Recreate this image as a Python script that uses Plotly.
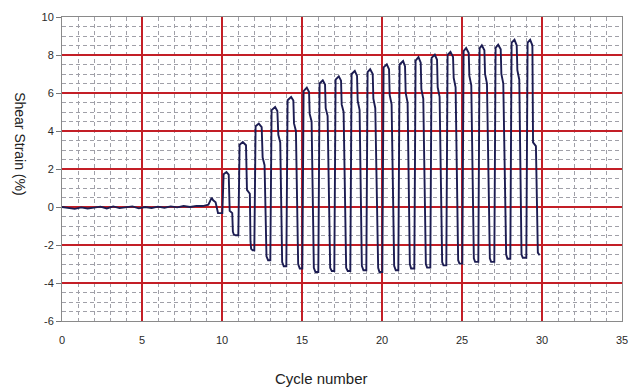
import plotly.graph_objects as go

# ---- data ----
# low-level response before liquefaction (cycles 0-10)
pre_x = [0.0, 0.4, 0.8, 1.2, 1.6, 2.0, 2.4, 2.8, 3.2, 3.6, 4.0, 4.4, 4.8, 5.2, 5.6,
         6.0, 6.4, 6.8, 7.2, 7.6, 8.0, 8.4, 8.8, 9.15, 9.35, 9.45, 9.6, 9.75, 10.0]
pre_y = [0.00, -0.04, -0.10, -0.02, -0.08, -0.03, 0.02, -0.08, 0.03, -0.06, -0.02, 0.03,
         -0.07, 0.00, -0.05, 0.02, -0.04, 0.03, -0.02, 0.05, 0.00, 0.06, 0.05, 0.12,
         0.48, 0.35, 0.25, -0.32, -0.32]

# large-strain cycles (cycles 10-30)
cyc_x = [
    10.02, 10.10, 10.28, 10.42, 10.48, 10.64, 10.68, 10.74, 10.86,
    11.02, 11.10, 11.30, 11.50, 11.56, 11.74, 11.78, 11.82, 11.92,
    12.02, 12.10, 12.30, 12.48, 12.54, 12.66, 12.72, 12.78, 12.88,
    13.02, 13.10, 13.32, 13.46, 13.52, 13.64, 13.70, 13.76, 13.86,
    14.02, 14.10, 14.32, 14.46, 14.50, 14.62, 14.68, 14.76, 14.86,
    15.02, 15.10, 15.30, 15.44, 15.48, 15.60, 15.66, 15.74, 15.84,
    16.02, 16.10, 16.30, 16.44, 16.48, 16.60, 16.66, 16.76, 16.86,
    17.02, 17.10, 17.30, 17.44, 17.48, 17.60, 17.66, 17.76, 17.86,
    18.02, 18.10, 18.30, 18.44, 18.48, 18.60, 18.66, 18.74, 18.84,
    19.02, 19.10, 19.26, 19.42, 19.46, 19.58, 19.66, 19.76, 19.84,
    20.02, 20.10, 20.30, 20.44, 20.48, 20.60, 20.66, 20.76, 20.86,
    21.02, 21.10, 21.32, 21.44, 21.48, 21.60, 21.66, 21.74, 21.82,
    22.02, 22.10, 22.28, 22.42, 22.46, 22.58, 22.66, 22.74, 22.82,
    23.02, 23.10, 23.30, 23.44, 23.48, 23.60, 23.66, 23.76, 23.84,
    24.02, 24.10, 24.28, 24.44, 24.48, 24.60, 24.66, 24.76, 24.84,
    25.02, 25.10, 25.26, 25.42, 25.46, 25.58, 25.66, 25.74, 25.82,
    26.02, 26.10, 26.24, 26.40, 26.44, 26.56, 26.64, 26.74, 26.82,
    27.02, 27.10, 27.26, 27.42, 27.46, 27.58, 27.66, 27.76, 27.84,
    28.02, 28.10, 28.28, 28.42, 28.46, 28.58, 28.64, 28.72, 28.80,
    29.02, 29.10, 29.26, 29.40, 29.44, 29.62, 29.68, 29.74, 29.85,
]
cyc_y = [
    -0.32, 1.72, 1.84, 1.70, -0.20, -0.32, -1.30, -1.45, -1.49,
    -1.49, 3.28, 3.42, 3.25, 0.90, 0.70, -1.80, -2.20, -2.28,
    -2.28, 4.25, 4.39, 4.20, 2.60, 2.20, -1.00, -2.60, -2.80,
    -2.80, 5.10, 5.26, 5.05, 3.80, 3.40, 0.50, -2.90, -3.12,
    -3.12, 5.62, 5.79, 5.60, 4.40, 4.00, 1.00, -3.00, -3.24,
    -3.24, 6.10, 6.28, 6.05, 4.90, 4.50, 1.20, -3.20, -3.42,
    -3.42, 6.50, 6.67, 6.45, 5.20, 4.80, 1.40, -3.20, -3.37,
    -3.37, 6.70, 6.88, 6.65, 5.40, 5.00, 1.50, -3.20, -3.37,
    -3.37, 7.00, 7.16, 6.90, 5.60, 5.10, 1.60, -3.10, -3.33,
    -3.33, 7.10, 7.25, 7.00, 5.70, 5.20, 1.60, -3.20, -3.42,
    -3.42, 7.35, 7.51, 7.25, 5.90, 5.40, 1.70, -3.10, -3.33,
    -3.33, 7.50, 7.68, 7.40, 6.00, 5.50, 1.80, -3.00, -3.24,
    -3.24, 7.70, 7.89, 7.60, 6.20, 5.70, 1.80, -3.00, -3.19,
    -3.19, 7.85, 8.02, 7.75, 6.30, 5.80, 1.90, -2.90, -3.07,
    -3.07, 8.00, 8.16, 7.90, 6.80, 6.30, 1.80, -2.80, -2.98,
    -2.98, 8.20, 8.37, 8.10, 6.90, 6.40, 1.90, -2.70, -2.89,
    -2.89, 8.35, 8.51, 8.25, 7.00, 6.50, 2.00, -2.70, -2.89,
    -2.89, 8.38, 8.54, 8.30, 7.00, 6.50, 2.00, -2.50, -2.72,
    -2.72, 8.65, 8.80, 8.50, 7.20, 6.70, 2.10, -2.50, -2.67,
    -2.67, 8.65, 8.80, 8.50, 3.40, 3.20, -1.00, -2.40, -2.54,
]

x_ticks = [0, 5, 10, 15, 20, 25, 30, 35]
y_ticks = [-6, -4, -2, 0, 2, 4, 6, 8, 10]
x_minor = [v for v in range(0, 36) if v % 5 != 0]
y_minor = [v / 2 for v in range(-12, 21) if v % 4 != 0]

x_all = pre_x + cyc_x
y_all = pre_y + cyc_y

FONT = "Liberation Sans, Arial, sans-serif"
RED = "rgb(195,30,38)"
MINOR = "rgb(160,160,168)"

fig = go.Figure()
fig.add_trace(go.Scatter(
    x=x_all, y=y_all, mode="lines",
    line=dict(color="#1c1c52", width=1.9),
    hoverinfo="skip", showlegend=False,
))

common = dict(
    showline=True, mirror=True, linecolor="#8a8a8a", linewidth=1,
    zeroline=False, showgrid=True, gridcolor=RED, gridwidth=1.5,
    tickfont=dict(family=FONT, size=11, color="#2a2a2a"),
)
fig.update_xaxes(
    range=[0, 35], tickvals=x_ticks, ticktext=[str(v) for v in x_ticks],
    ticks="outside", ticklen=9, tickcolor="rgba(0,0,0,0)",
    minor=dict(tickvals=x_minor, showgrid=True, gridcolor=MINOR,
               griddash="4px,3px", gridwidth=1, ticks=""),
    **common,
)
fig.update_yaxes(
    range=[-6, 10], tickvals=y_ticks, ticktext=[str(v) for v in y_ticks],
    ticks="outside", ticklen=5, tickcolor="#777777",
    minor=dict(tickvals=y_minor, showgrid=True, gridcolor=MINOR,
               griddash="4px,3px", gridwidth=1, ticks=""),
    **common,
)

fig.update_layout(
    width=634, height=388,
    margin=dict(l=62, r=12, t=17, b=67, autoexpand=False),
    paper_bgcolor="white", plot_bgcolor="white",
    font=dict(family=FONT, color="#222222"),
    annotations=[
        dict(text="Shear Strain (%)", textangle=90, xref="paper", yref="paper",
             x=-0.075, y=0.585, xanchor="center", yanchor="middle",
             showarrow=False, font=dict(family=FONT, size=14, color="#222222")),
        dict(text="Cycle number", xref="paper", yref="paper",
             x=0.464, y=-0.19, xanchor="center", yanchor="middle",
             showarrow=False, font=dict(family=FONT, size=15, color="#222222")),
    ],
)

fig.write_html("out.html", config={"displayModeBar": False},
               post_script="document.body.style.margin='0';")
